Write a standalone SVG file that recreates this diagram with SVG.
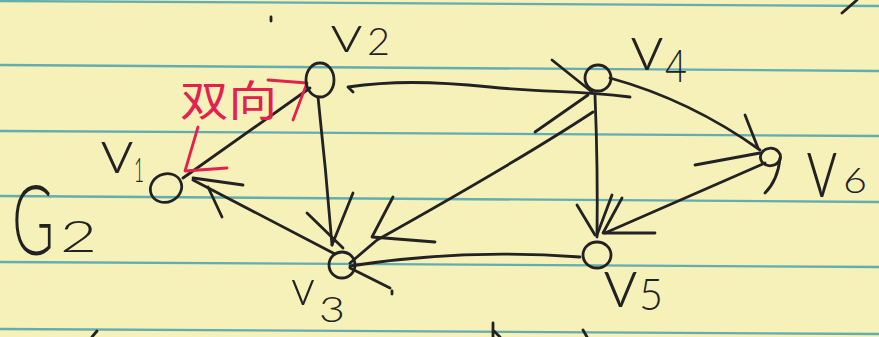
<svg xmlns="http://www.w3.org/2000/svg" width="879" height="337" viewBox="0 0 879 337">
<defs>
<style>
.paper{fill:#f6f0b9}
.rule{stroke:#62adaf;stroke-width:2.3;fill:none}
.ink{stroke:#222;stroke-width:2.8;fill:none;stroke-linecap:round;stroke-linejoin:round}
.red{stroke:#e3204e;stroke-width:2.8;fill:none;stroke-linecap:round;stroke-linejoin:round}
.lbl{font-family:Lato,"Open Sans","Liberation Sans",sans-serif;font-weight:300;fill:#222}
.redtxt{font-family:"Noto Sans CJK SC","Noto Sans",sans-serif;fill:#e3204e}
</style>
</defs>
<rect class="paper" x="0" y="0" width="879" height="337"/>
<g id="rules">
<line class="rule" x1="0" y1="1" x2="879" y2="6"/>
<line class="rule" x1="0" y1="65" x2="879" y2="71"/>
<line class="rule" x1="0" y1="131" x2="879" y2="136"/>
<line class="rule" x1="0" y1="196" x2="879" y2="202"/>
<line class="rule" x1="0" y1="262" x2="879" y2="267"/>
<line class="rule" x1="0" y1="329" x2="879" y2="334"/>
</g>
<g id="stray">
<path class="ink" d="M857,0 L842,13"/>
<path class="ink" d="M271,17 L271,21" stroke-width="2"/>
<path class="ink" d="M92,337 L97,331"/>
<path class="ink" d="M493,323 L493,337 M494,331 L500,337"/>
<path class="ink" d="M583,330 L587,337"/>
<path class="ink" d="M392,291 L392,294" stroke-width="2"/>
</g>
<g id="title">
<text class="lbl" transform="translate(12,255) scale(0.6,1)" font-size="96">G</text>
<text class="lbl" x="60" y="252" font-size="44" textLength="37" lengthAdjust="spacingAndGlyphs">2</text>
</g>
<g id="connectors">
<g id="e-v1-v2">
<path class="ink" d="M183,178 L310,88"/>
<path class="red" d="M268,80 L307,83 L293,120"/>
<path class="red" d="M198,127 L185,171 L227,168"/>
</g>
<g id="e-v2-v3">
<path class="ink" d="M318,97 Q326,170 332,245"/>
<path class="ink" d="M353,193 L332,245 M307,213 L343,248"/>
</g>
<g id="e-v2-v4">
<path class="ink" d="M353,92 L348,87 C390,81 430,81 490,87 S570,90 630,97"/>
<path class="ink" d="M552,60 L592,92 M535,132 L588,95"/>
</g>
<g id="e-v4-v3">
<path class="ink" d="M593,112 Q520,160 377,240 L350,263"/>
<path class="ink" d="M393,197 L372,237 L435,242"/>
</g>
<g id="e-v4-v5">
<path class="ink" d="M595,95 Q598,170 597,237"/>
<path class="ink" d="M577,205 L595,235 M612,195 L597,235"/>
</g>
<g id="e-v4-v6">
<path class="ink" d="M610,78 Q690,100 760,150"/>
<path class="ink" d="M745,115 L758,148 M695,165 L760,153"/>
</g>
<g id="e-v6-v5">
<path class="ink" d="M765,163 L605,233"/>
<path class="ink" d="M622,198 L603,233 L655,233"/>
</g>
<g id="e-v5-v3">
<path class="ink" d="M580,257 C500,251 420,255 350,266"/>
<path class="ink" d="M350,268 L390,288"/>
</g>
<g id="e-v3-v1">
<path class="ink" d="M335,254 L193,180"/>
<path class="ink" d="M243,185 L193,178 M208,187 L222,217"/>
</g>
<text class="redtxt" x="180" y="116" font-size="42" textLength="97" lengthAdjust="spacingAndGlyphs">双向</text>
</g>
<g id="v1">
<ellipse class="ink" cx="166" cy="188" rx="16" ry="14" transform="rotate(-25 166 188)"/>
<text class="lbl" x="100" y="173" font-size="62" textLength="34" lengthAdjust="spacingAndGlyphs">v</text>
<text class="lbl" x="134" y="182" font-size="34" textLength="10" lengthAdjust="spacingAndGlyphs">1</text>
</g>
<g id="v2">
<ellipse class="ink" cx="320" cy="80" rx="14" ry="17"/>
<text class="lbl" x="330" y="52" font-size="52" textLength="33" lengthAdjust="spacingAndGlyphs">v</text>
<text class="lbl" x="367" y="55" font-size="37" textLength="23" lengthAdjust="spacingAndGlyphs">2</text>
</g>
<g id="v3">
<ellipse class="ink" cx="342" cy="265" rx="13" ry="13"/>
<text class="lbl" x="291" y="305" font-size="50" textLength="24" lengthAdjust="spacingAndGlyphs">v</text>
<text class="lbl" x="319" y="322" font-size="36" textLength="26" lengthAdjust="spacingAndGlyphs">3</text>
</g>
<g id="v4">
<circle class="ink" cx="598" cy="78" r="13"/>
<text class="lbl" x="630" y="70" font-size="66" textLength="34" lengthAdjust="spacingAndGlyphs">v</text>
<text class="lbl" x="665" y="82" font-size="46" textLength="22" lengthAdjust="spacingAndGlyphs">4</text>
</g>
<g id="v5">
<ellipse class="ink" cx="597" cy="255" rx="14" ry="13"/>
<text class="lbl" x="603" y="307" font-size="70" textLength="35" lengthAdjust="spacingAndGlyphs">v</text>
<text class="lbl" x="639" y="310" font-size="44" textLength="24" lengthAdjust="spacingAndGlyphs">5</text>
</g>
<g id="v6">
<path class="ink" d="M780,160 A10,9 0 1 0 762,162 A10,9 0 0 0 780,158 Q778,180 765,193"/>
<text class="lbl" transform="translate(806,197) scale(0.72,1)" font-size="88">v</text>
<text class="lbl" x="843" y="193" font-size="36" textLength="24" lengthAdjust="spacingAndGlyphs">6</text>
</g>
</svg>
